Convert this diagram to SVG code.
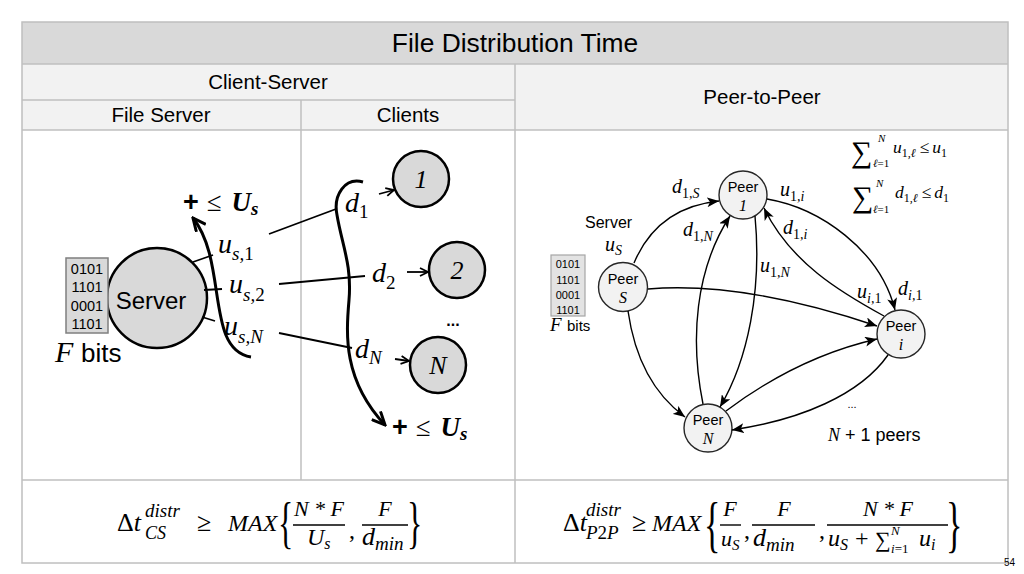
<svg xmlns="http://www.w3.org/2000/svg" width="1024" height="574" viewBox="0 0 1024 574">
<style>
.sans{font-family:"Liberation Sans",Arial,sans-serif;fill:#000}
.m{font-family:"Liberation Serif","Times New Roman",serif;font-style:italic;fill:#000}
.r{font-style:normal}
.b{font-weight:bold}
.grid{stroke:#bfbfbf;stroke-width:1.5;fill:none}
.ln{stroke:#000;stroke-width:1.8;fill:none}
.arc{stroke:#000;stroke-width:3;fill:none}
.pe{stroke:#000;stroke-width:1.4;fill:none}
.bits{fill:#d9d9d9;stroke:#7f7f7f;stroke-width:1.5}
.bits2{fill:#e3e3e3;stroke:#a6a6a6;stroke-width:1.2}
.cl{fill:#d9d9d9;stroke:#000;stroke-width:2.5}
.peer{fill:#f2f2f2;stroke:#262626;stroke-width:1.4}
.bar{stroke:#000;stroke-width:1.4}
</style>
<defs>
<marker id="aBig" markerUnits="userSpaceOnUse" markerWidth="16" markerHeight="14" refX="14" refY="7" orient="auto"><path d="M1,1 L14,7 L1,13" fill="none" stroke="#000" stroke-width="3" stroke-linejoin="miter"/></marker>
<marker id="aSm" markerUnits="userSpaceOnUse" markerWidth="10" markerHeight="10" refX="9" refY="5" orient="auto"><path d="M1,1 L9,5 L1,9" fill="none" stroke="#000" stroke-width="1.8"/></marker>
<marker id="aP" markerUnits="userSpaceOnUse" markerWidth="12" markerHeight="10" refX="12" refY="5" orient="auto"><path d="M0,0 L12,5 L0,10 L3,5 z" fill="#000"/></marker>
</defs>

<g id="table">
<rect x="22" y="22" width="986" height="42" fill="#d9d9d9"/>
<rect x="22" y="64" width="986" height="66" fill="#f2f2f2"/>
<rect x="22" y="130" width="986" height="433" fill="#fff"/>
<rect x="22" y="22" width="986" height="541" class="grid"/>
<line x1="22" y1="64" x2="1008" y2="64" class="grid"/>
<line x1="22" y1="100" x2="515" y2="100" class="grid"/>
<line x1="22" y1="130" x2="1008" y2="130" class="grid"/>
<line x1="22" y1="480" x2="1008" y2="480" class="grid"/>
<line x1="515" y1="64" x2="515" y2="563" class="grid"/>
<line x1="301" y1="100" x2="301" y2="480" class="grid"/>
<text class="sans" x="515" y="52" font-size="26.4" text-anchor="middle">File Distribution Time</text>
<text class="sans" x="268" y="89" font-size="20.5" text-anchor="middle">Client-Server</text>
<text class="sans" x="762" y="104" font-size="20.5" text-anchor="middle">Peer-to-Peer</text>
<text class="sans" x="161" y="122" font-size="20.5" text-anchor="middle">File Server</text>
<text class="sans" x="408" y="122" font-size="20.5" text-anchor="middle">Clients</text>
</g>

<g id="server">
<circle cx="157" cy="298" r="50" class="cl"/>
<rect x="66" y="258" width="42" height="75" class="bits"/>
<text class="sans" font-size="14.5" text-anchor="middle" fill="#000"><tspan x="87" y="274">0101</tspan><tspan x="87" y="292">1101</tspan><tspan x="87" y="311">0001</tspan><tspan x="87" y="329">1101</tspan></text>
<text class="sans" x="151" y="309" font-size="24" text-anchor="middle">Server</text>
<text class="m" x="55" y="362" font-size="30">F</text>
<text class="sans" x="81" y="362" font-size="26">bits</text>
</g>

<g id="client-1"><circle cx="421" cy="179" r="28" class="cl"/><text class="m" x="421" y="188" font-size="26" text-anchor="middle">1</text></g>
<g id="client-2"><circle cx="457" cy="270" r="28" class="cl"/><text class="m" x="457" y="279" font-size="26" text-anchor="middle">2</text></g>
<g id="client-N"><circle cx="438" cy="365" r="28" class="cl"/><text class="m" x="438" y="374" font-size="26" text-anchor="middle">N</text></g>
<text class="sans b" x="453" y="326" font-size="16" text-anchor="middle">...</text>

<g id="cs-labels">
<text class="m" x="218" y="253" font-size="28">u<tspan font-size="19" dy="7">s,<tspan class="r">1</tspan></tspan></text>
<text class="m" x="229" y="293" font-size="28">u<tspan font-size="19" dy="8">s,<tspan class="r">2</tspan></tspan></text>
<text class="m" x="224" y="335" font-size="28">u<tspan font-size="19" dy="8">s,N</tspan></text>
<text class="m" x="345" y="212" font-size="28">d<tspan class="r" font-size="19" dy="6">1</tspan></text>
<text class="m" x="372" y="282" font-size="28">d<tspan class="r" font-size="19" dy="7">2</tspan></text>
<text class="m" x="355" y="358" font-size="28">d<tspan font-size="19" dy="6">N</tspan></text>
<text x="183" y="211" font-size="27"><tspan class="sans b">+</tspan><tspan class="m r" dx="8">≤</tspan><tspan class="m b" dx="10">U</tspan><tspan class="m b" font-size="19" dy="4">s</tspan></text>
<text x="392" y="436" font-size="27"><tspan class="sans b">+</tspan><tspan class="m r" dx="8">≤</tspan><tspan class="m b" dx="10">U</tspan><tspan class="m b" font-size="19" dy="4">s</tspan></text>
</g>

<g id="peer-1"><circle cx="743" cy="195" r="24" class="peer"/><text class="sans" x="743" y="192" font-size="14.5" text-anchor="middle">Peer</text><text class="m" x="743" y="211" font-size="16" text-anchor="middle">1</text></g>
<g id="peer-S"><circle cx="623" cy="287" r="24.5" class="peer"/><text class="sans" x="623" y="284" font-size="14.5" text-anchor="middle">Peer</text><text class="m" x="623" y="303" font-size="16" text-anchor="middle">S</text></g>
<g id="peer-i"><circle cx="901" cy="334" r="24" class="peer"/><text class="sans" x="901" y="331" font-size="14.5" text-anchor="middle">Peer</text><text class="m" x="901" y="350" font-size="16" text-anchor="middle">i</text></g>
<g id="peer-N"><circle cx="708" cy="428" r="24" class="peer"/><text class="sans" x="708" y="425" font-size="14.5" text-anchor="middle">Peer</text><text class="m" x="708" y="444" font-size="16" text-anchor="middle">N</text></g>

<g id="p2p-labels">
<rect x="551" y="255" width="34" height="61" class="bits2"/>
<text class="sans" font-size="11" text-anchor="middle" fill="#262626"><tspan x="568" y="268">0101</tspan><tspan x="568" y="284">1101</tspan><tspan x="568" y="299">0001</tspan><tspan x="568" y="314">1101</tspan></text>
<text class="m" x="550" y="331" font-size="19">F</text>
<text class="sans" x="567" y="331" font-size="15">bits</text>
<text class="sans" x="585" y="228" font-size="16">Server</text>
<text class="m" x="605" y="251" font-size="20">u<tspan font-size="14" dy="4">S</tspan></text>
<text class="m" x="672" y="193" font-size="20">d<tspan font-size="14" dy="5"><tspan class="r">1</tspan>,S</tspan></text>
<text class="m" x="683" y="236" font-size="20">d<tspan font-size="14" dy="5"><tspan class="r">1</tspan>,N</tspan></text>
<text class="m" x="780" y="196" font-size="20">u<tspan font-size="14" dy="5"><tspan class="r">1</tspan>,i</tspan></text>
<text class="m" x="783" y="234" font-size="20">d<tspan font-size="14" dy="5"><tspan class="r">1</tspan>,i</tspan></text>
<text class="m" x="760" y="272" font-size="20">u<tspan font-size="14" dy="5"><tspan class="r">1</tspan>,N</tspan></text>
<text class="m" x="857" y="298" font-size="20">u<tspan font-size="14" dy="5">i,<tspan class="r">1</tspan></tspan></text>
<text class="m" x="898" y="295" font-size="20">d<tspan font-size="14" dy="5">i,<tspan class="r">1</tspan></tspan></text>
<text class="m r" x="851" y="162" font-size="30">∑</text>
<text class="m" x="878" y="142" font-size="11">N</text>
<text class="m" x="873" y="167" font-size="11">ℓ<tspan class="r">=1</tspan></text>
<text class="m" x="893" y="153" font-size="17.5">u<tspan font-size="12" dy="4"><tspan class="r">1</tspan>,ℓ</tspan><tspan class="r" dy="-4" dx="4">≤</tspan><tspan dx="3">u</tspan><tspan class="r" font-size="12" dy="4">1</tspan></text>
<text class="m r" x="852" y="207" font-size="30">∑</text>
<text class="m" x="876" y="187" font-size="11">N</text>
<text class="m" x="873" y="213" font-size="11">ℓ<tspan class="r">=1</tspan></text>
<text class="m" x="895" y="198" font-size="17.5">d<tspan font-size="12" dy="4"><tspan class="r">1</tspan>,ℓ</tspan><tspan class="r" dy="-4" dx="4">≤</tspan><tspan dx="3">d</tspan><tspan class="r" font-size="12" dy="4">1</tspan></text>
<text class="sans" x="852" y="408" font-size="11" fill="#595959" text-anchor="middle">...</text>
<text x="828" y="441" font-size="18"><tspan class="m">N</tspan><tspan class="sans"> + 1 peers</tspan></text>
</g>

<g id="connectors">
<line x1="193" y1="262" x2="213" y2="255" class="ln"/>
<line x1="269" y1="234" x2="336" y2="209" class="ln"/>
<line x1="204" y1="290" x2="222" y2="289" class="ln"/>
<line x1="279" y1="284" x2="365" y2="276" class="ln"/>
<line x1="202" y1="317" x2="215" y2="321" class="ln"/>
<line x1="279" y1="333" x2="352" y2="348" class="ln"/>
<path d="M251,357 C205,350 228,262 193,218" class="arc" marker-end="url(#aBig)"/>
<path d="M363,182 C345,177 333,195 337,215 C342,245 352,265 349,300 C346,335 343,380 385,425" class="arc" marker-end="url(#aBig)"/>
<line x1="379" y1="194" x2="394" y2="190" class="ln" marker-end="url(#aSm)"/>
<line x1="407" y1="272" x2="428" y2="272" class="ln" marker-end="url(#aSm)"/>
<line x1="395" y1="359" x2="409" y2="361" class="ln" marker-end="url(#aSm)"/>
<path d="M634,263 C650,225 680,205 719,201" class="pe" marker-end="url(#aP)"/>
<path d="M648,289 C720,283 800,300 877,326" class="pe" marker-end="url(#aP)"/>
<path d="M628,311 C635,360 655,395 685,417" class="pe" marker-end="url(#aP)"/>
<path d="M703,404 C690,340 695,270 730,216" class="pe" marker-end="url(#aP)"/>
<path d="M755,216 C762,290 748,360 720,407" class="pe" marker-end="url(#aP)"/>
<path d="M884,316 C840,292 790,262 764,208" class="pe" marker-end="url(#aP)"/>
<path d="M767,199 C820,208 880,250 895,310" class="pe" marker-end="url(#aP)"/>
<path d="M726,411 C770,378 820,352 877,339" class="pe" marker-end="url(#aP)"/>
<path d="M888,355 C860,395 800,420 732,430" class="pe" marker-end="url(#aP)"/>
</g>

<g id="formula-cs">
<text class="m" x="117" y="531" font-size="26"><tspan class="r">Δ</tspan>t</text>
<text class="m" x="145" y="517" font-size="19">distr</text>
<text class="m" x="145" y="539" font-size="18">CS</text>
<text class="m r" x="197" y="531" font-size="26">≥</text>
<text class="m" x="228" y="531" font-size="24">MAX</text>
<text class="m r" font-size="58" transform="translate(278,542) scale(0.55,1)">{</text>
<text class="m" x="319" y="516" font-size="22" text-anchor="middle">N * F</text>
<line x1="293" y1="525" x2="345" y2="525" class="bar"/>
<text class="m" x="307" y="545" font-size="24">U<tspan font-size="16" dy="4">s</tspan></text>
<text class="m r" x="349" y="538" font-size="24">,</text>
<text class="m" x="385" y="516" font-size="22" text-anchor="middle">F</text>
<line x1="362" y1="525" x2="408" y2="525" class="bar"/>
<text class="m" x="362" y="545" font-size="26">d<tspan font-size="19" dy="5">min</tspan></text>
<text class="m r" font-size="58" transform="translate(407,542) scale(0.55,1)">}</text>
</g>

<g id="formula-p2p">
<text class="m" x="563" y="531" font-size="26"><tspan class="r">Δ</tspan>t</text>
<text class="m" x="586" y="516" font-size="19">distr</text>
<text class="m" x="586" y="539" font-size="19">P<tspan class="r">2</tspan>P</text>
<text class="m r" x="632" y="531" font-size="26">≥</text>
<text class="m" x="652" y="531" font-size="24">MAX</text>
<text class="m r" font-size="62" transform="translate(704,545) scale(0.55,1)">{</text>
<text class="m" x="730" y="516" font-size="22" text-anchor="middle">F</text>
<line x1="720" y1="525" x2="741" y2="525" class="bar"/>
<text class="m" x="721" y="546" font-size="22">u<tspan font-size="15" dy="4">S</tspan></text>
<text class="m r" x="744" y="538" font-size="24">,</text>
<text class="m" x="784" y="516" font-size="22" text-anchor="middle">F</text>
<line x1="752" y1="525" x2="815" y2="525" class="bar"/>
<text class="m" x="753" y="546" font-size="26">d<tspan font-size="19" dy="5">min</tspan></text>
<text class="m r" x="819" y="538" font-size="24">,</text>
<text class="m" x="888" y="516" font-size="22" text-anchor="middle">N * F</text>
<line x1="827" y1="525" x2="948" y2="525" class="bar"/>
<text class="m" x="828" y="546" font-size="24">u<tspan font-size="16" dy="4">S</tspan></text>
<text class="m r" x="855" y="546" font-size="24">+</text>
<text class="m r" x="875" y="547" font-size="22">∑</text>
<text class="m" x="891" y="535" font-size="13">N</text>
<text class="m" x="891" y="553" font-size="13">i<tspan class="r">=1</tspan></text>
<text class="m" x="919" y="546" font-size="24">u<tspan font-size="16" dy="4">i</tspan></text>
<text class="m r" font-size="62" transform="translate(946,545) scale(0.55,1)">}</text>
</g>
<text class="sans" x="1004" y="566" font-size="10" fill="#a6a6a6">54</text>
</svg>
